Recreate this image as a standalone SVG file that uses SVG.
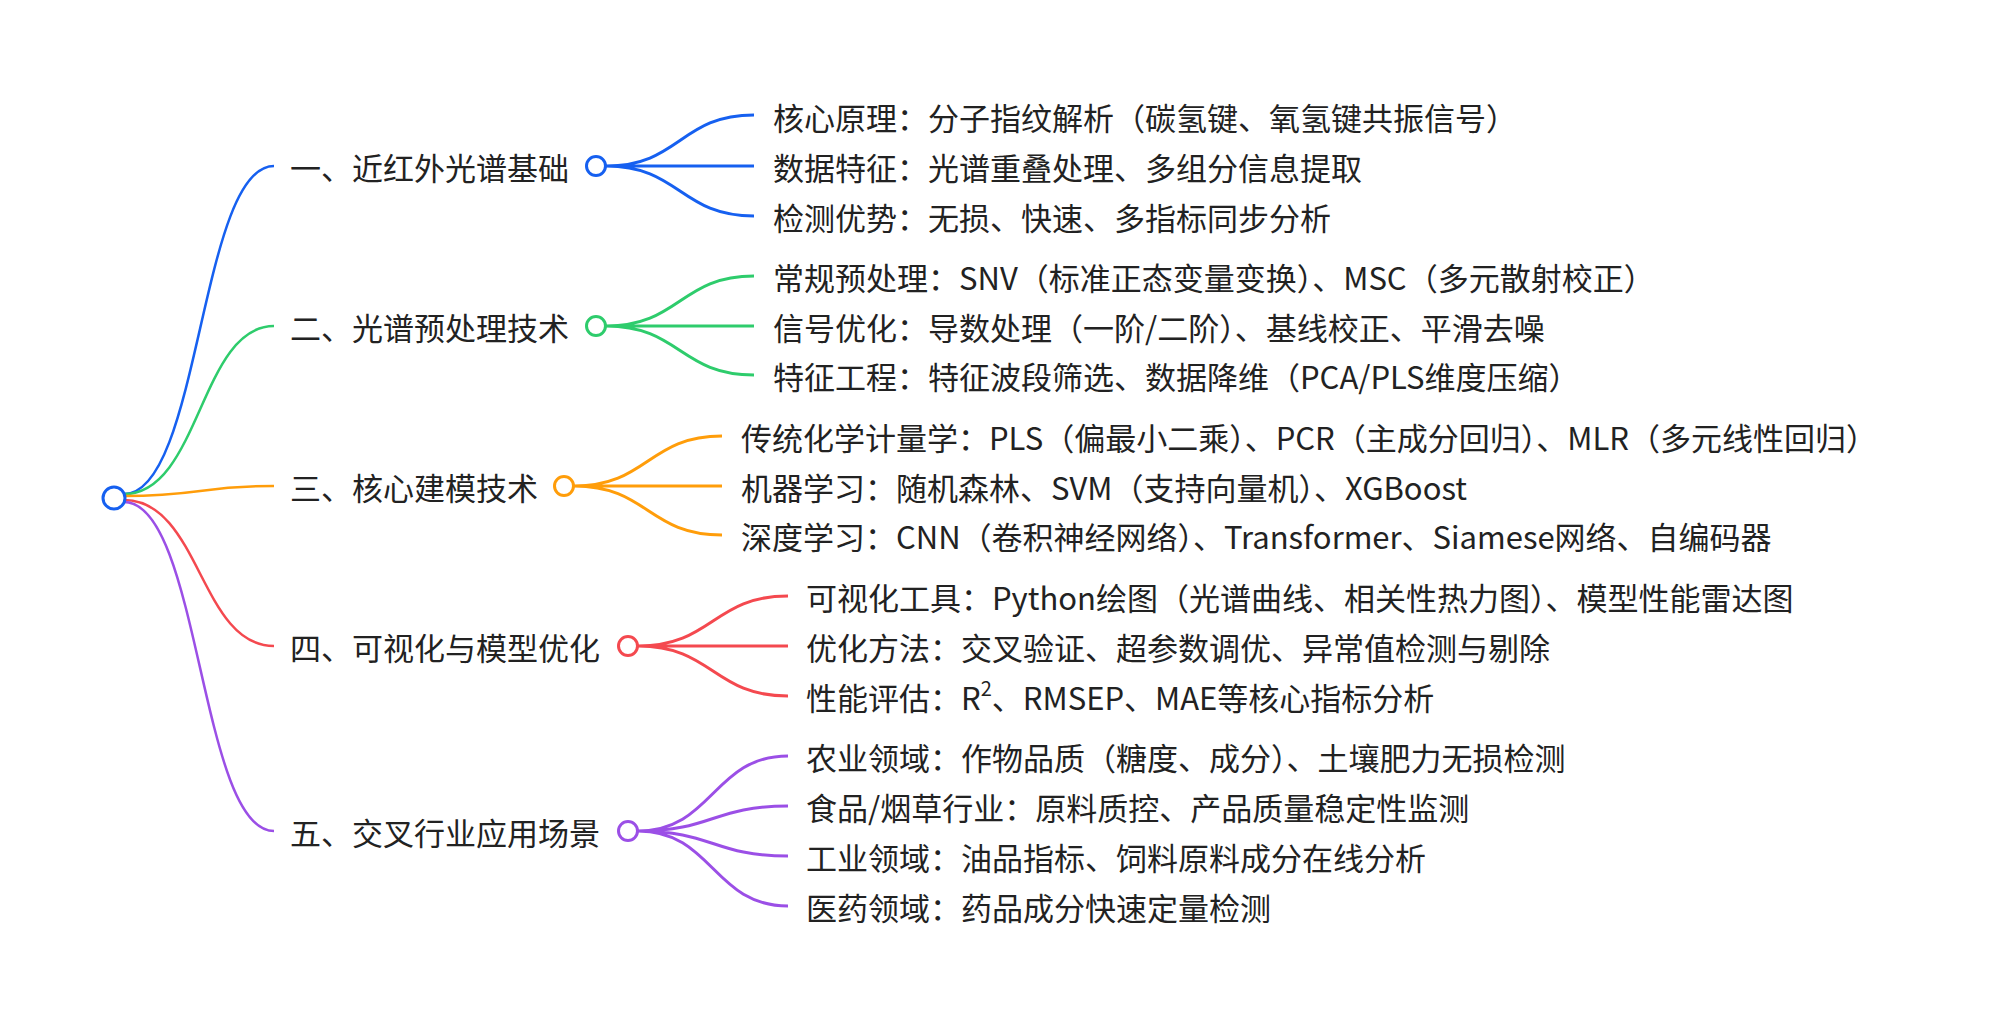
<svg xmlns="http://www.w3.org/2000/svg" width="2012" height="1022" viewBox="0 0 2012 1022">
<style>
text{font-family:"Noto Sans CJK SC","Noto Sans",sans-serif;font-size:31px;fill:#222;dominant-baseline:central}
.c{fill:#fff;stroke-width:3}
.l{fill:none;stroke-width:3}
.r{fill:none;stroke-width:2.5}
.b{stroke:#1660f0}.g{stroke:#2ecc6c}.o{stroke:#ff9d0a}.d{stroke:#f4494f}.p{stroke:#9b4fe6}
</style>
<rect width="2012" height="1022" fill="#fff"/>
<g id="connectors">
<path class="r b" d="M124,494 C200,494 200,166 274,166"/>
<path class="r g" d="M124,494 C200,494 200,326 274,326"/>
<path class="r o" d="M124,496 C200,496 200,486 274,486"/>
<path class="r d" d="M124,500 C200,500 200,646 274,646"/>
<path class="r p" d="M124,502 C200,502 200,831 274,831"/>
<path class="l b" d="M606,166 C680,166 680,115 754,115 M606,166 L754,166 M606,166 C680,166 680,216 754,216"/>
<path class="l g" d="M606,326 C680,326 680,276 754,276 M606,326 L754,326 M606,326 C680,326 680,375 754,375"/>
<path class="l o" d="M574,486 C648,486 648,436 722,436 M574,486 L722,486 M574,486 C648,486 648,535 722,535"/>
<path class="l d" d="M638,646 C713,646 713,596 788,596 M638,646 L788,646 M638,646 C713,646 713,696 788,696"/>
<path class="l p" d="M638,831 C713,831 713,756 788,756 M638,831 C713,831 713,806 788,806 M638,831 C713,831 713,856 788,856 M638,831 C713,831 713,906 788,906"/>
</g>
<g id="root"><circle class="c b" cx="114" cy="498" r="11"/></g>
<g id="n1"><text x="290" y="166">一、近红外光谱基础</text><circle class="c b" cx="596" cy="166" r="9.5"/>
<text x="773" y="116">核心原理：分子指纹解析（碳氢键、氧氢键共振信号）</text>
<text x="773" y="166">数据特征：光谱重叠处理、多组分信息提取</text>
<text x="773" y="216">检测优势：无损、快速、多指标同步分析</text></g>
<g id="n2"><text x="290" y="326">二、光谱预处理技术</text><circle class="c g" cx="596" cy="326" r="9.5"/>
<text x="773" y="276">常规预处理：SNV（标准正态变量变换）、MSC（多元散射校正）</text>
<text x="773" y="326">信号优化：导数处理（一阶/二阶）、基线校正、平滑去噪</text>
<text x="773" y="375">特征工程：特征波段筛选、数据降维（PCA/PLS维度压缩）</text></g>
<g id="n3"><text x="290" y="486">三、核心建模技术</text><circle class="c o" cx="564" cy="486" r="9.5"/>
<text x="741" y="436">传统化学计量学：PLS（偏最小二乘）、PCR（主成分回归）、MLR（多元线性回归）</text>
<text x="741" y="486">机器学习：随机森林、SVM（支持向量机）、XGBoost</text>
<text x="741" y="535">深度学习：CNN（卷积神经网络）、Transformer、Siamese网络、自编码器</text></g>
<g id="n4"><text x="290" y="646">四、可视化与模型优化</text><circle class="c d" cx="628" cy="646" r="9.5"/>
<text x="806" y="596">可视化工具：Python绘图（光谱曲线、相关性热力图）、模型性能雷达图</text>
<text x="806" y="646">优化方法：交叉验证、超参数调优、异常值检测与剔除</text>
<text x="806" y="696">性能评估：R<tspan font-size="20" dy="-9">2</tspan><tspan dy="9">、RMSEP、MAE等核心指标分析</tspan></text></g>
<g id="n5"><text x="290" y="831">五、交叉行业应用场景</text><circle class="c p" cx="628" cy="831" r="9.5"/>
<text x="806" y="756">农业领域：作物品质（糖度、成分）、土壤肥力无损检测</text>
<text x="806" y="806">食品/烟草行业：原料质控、产品质量稳定性监测</text>
<text x="806" y="856">工业领域：油品指标、饲料原料成分在线分析</text>
<text x="806" y="906">医药领域：药品成分快速定量检测</text></g>
</svg>
